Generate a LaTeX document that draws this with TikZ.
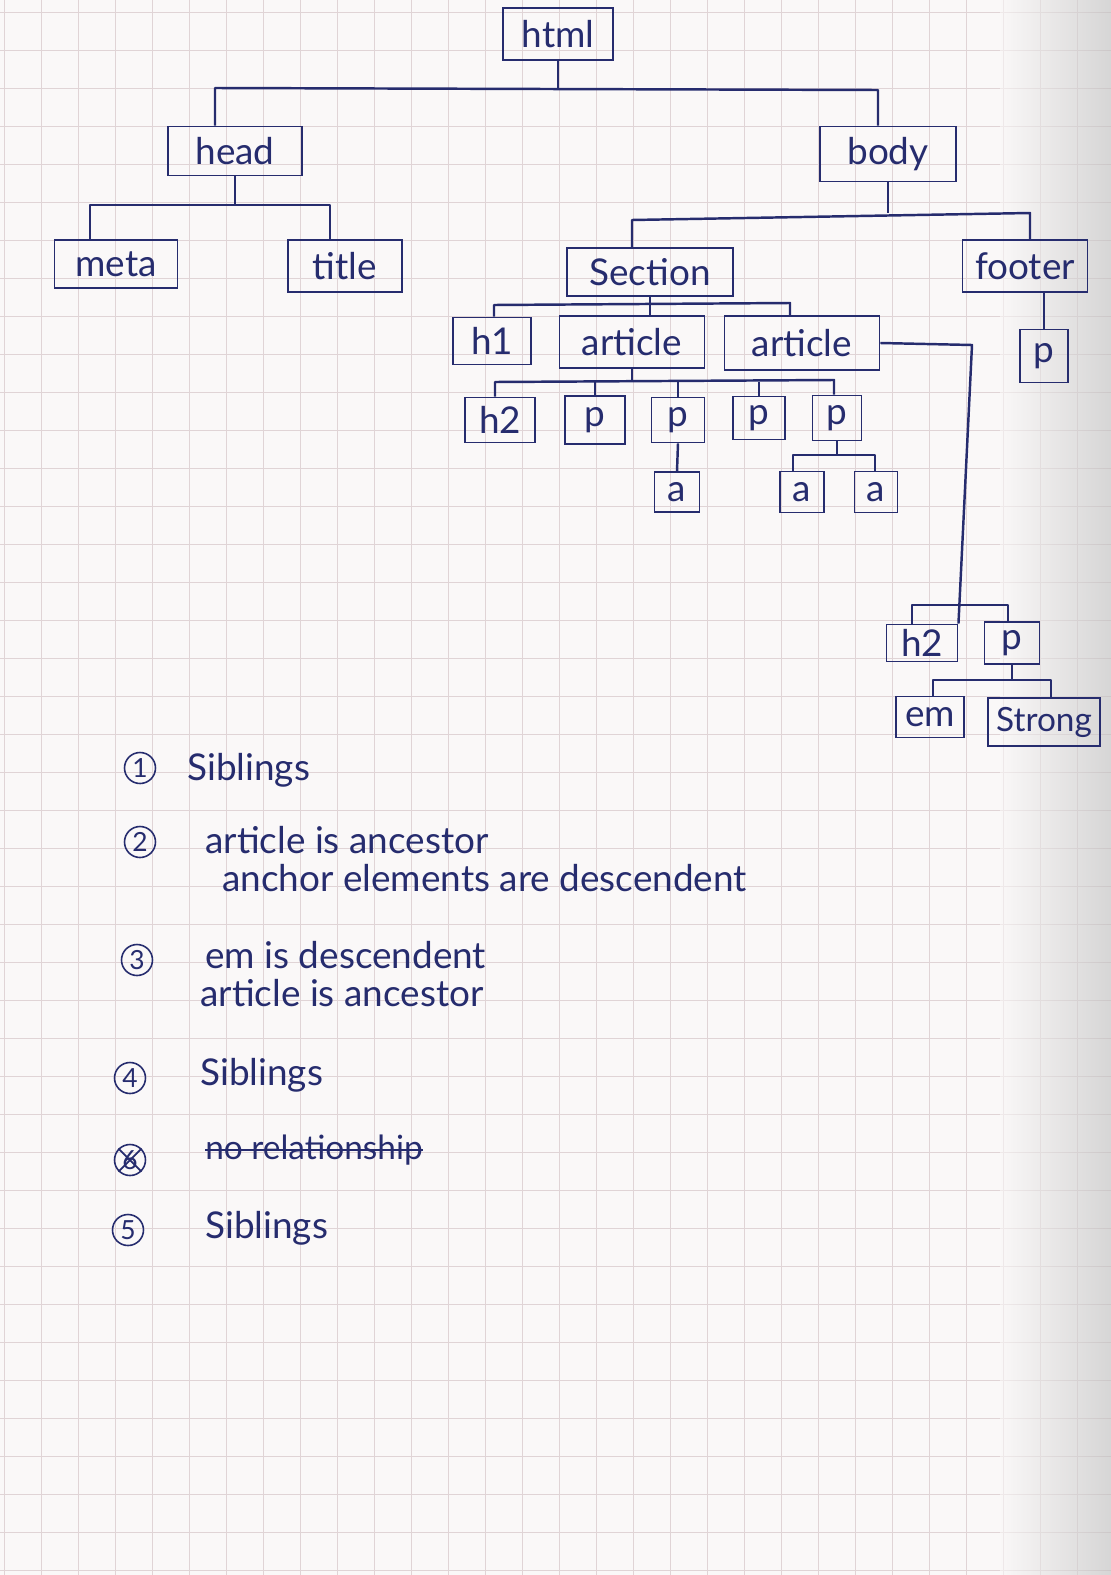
\documentclass[tikz,border=0pt]{standalone}
\usepackage{fontspec}
\setmainfont{Lato}
\usetikzlibrary{positioning}
\definecolor{penblue}{HTML}{262C6E}
\definecolor{gridpink}{HTML}{E0D4D6}
\definecolor{paper}{HTML}{FAF8F8}

\begin{document}
\begin{tikzpicture}[
    x=0.02cm, y=-0.02cm,
    tag/.style={draw=penblue, line width=1.1pt, inner sep=0pt, text=penblue,
                font=\fontsize{21}{24}\selectfont},
    link/.style={draw=penblue, line width=1.4pt, line join=round},
    num/.style={circle, draw=penblue, line width=0.9pt, inner sep=0pt,
                minimum size=0.62cm, text=penblue, font=\fontsize{15}{17}\selectfont},
    note/.style={anchor=west, inner sep=0pt, text=penblue,
                 font=\fontsize{21}{24}\selectfont},
  ]
  % Paper with its grid
  \useasboundingbox (0,0) rectangle (1111,1575);
  \fill[paper] (0,0) rectangle (1111,1575);
  \foreach \gx in {4,41,...,1111}
    \draw[gridpink, line width=0.5pt] (\gx,0) -- (\gx,1575);
  \foreach \gy in {12,50,...,1575}
    \draw[gridpink, line width=0.5pt] (0,\gy) -- (1111,\gy);
  \shade[left color=paper, right color=black!25, opacity=0.6] (1000,0) rectangle (1111,1575);

  % Level 0 and 1
  \node[tag, minimum width=2.2cm, minimum height=1.04cm] (html) at (558,34) {html};
  \node[tag, minimum width=2.68cm, minimum height=0.98cm] (head) at (235,151) {head};
  \node[tag, minimum width=2.72cm, minimum height=1.1cm] (body) at (888,154) {body};

  % Level 2
  \node[tag, minimum width=2.46cm, minimum height=0.96cm] (meta) at (116,264) {meta};
  \node[tag, minimum width=2.28cm, minimum height=1.04cm] (title) at (345,266) {title};
  \node[tag, minimum width=3.32cm, minimum height=0.96cm] (section) at (650,272) {Section};
  \node[tag, minimum width=2.5cm, minimum height=1.04cm] (footer) at (1025,266) {footer};

  % Level 3
  \node[tag, minimum width=1.56cm, minimum height=0.94cm] (h1) at (492,341) {h1};
  \node[tag, minimum width=2.9cm, minimum height=1.04cm] (art1) at (632,342) {article};
  \node[tag, minimum width=3.1cm, minimum height=1.08cm] (art2) at (802,343) {article};
  \node[tag, minimum width=0.96cm, minimum height=1.06cm] (pf) at (1044,356) {p};

  % Level 4
  \node[tag, minimum width=1.4cm, minimum height=0.9cm] (h2) at (500,420) {h2};
  \node[tag, minimum width=1.2cm, minimum height=0.96cm] (p1) at (595,420) {p};
  \node[tag, minimum width=1.06cm, minimum height=0.9cm] (p2) at (678,420) {p};
  \node[tag, minimum width=1.04cm, minimum height=0.86cm] (p3) at (759,418) {p};
  \node[tag, minimum width=0.98cm, minimum height=0.9cm] (p4) at (837,418) {p};

  % Level 5
  \node[tag, minimum width=0.9cm, minimum height=0.8cm] (a1) at (677,492) {a};
  \node[tag, minimum width=0.88cm, minimum height=0.82cm] (a2) at (802,492) {a};
  \node[tag, minimum width=0.86cm, minimum height=0.82cm] (a3) at (876,492) {a};

  % Second article's children, far right
  \node[tag, minimum width=1.42cm, minimum height=0.74cm] (h2b) at (922,643) {h2};
  \node[tag, minimum width=1.1cm, minimum height=0.84cm] (pb) at (1012,643) {p};
  \node[tag, minimum width=1.36cm, minimum height=0.82cm] (em) at (930,717) {em};
  \node[tag, minimum width=2.24cm, minimum height=0.96cm,
        font=\fontsize{19}{22}\selectfont] (strong) at (1044,722) {Strong};

  % Connectors
  \coordinate (hL) at (215,88);  \coordinate (hR) at (878,90);
  \draw[link] (html.south) -- (html.south |- hL);
  \draw[link] (head.north -| hL) -- (hL) -- (hR) -- (body.north -| hR);

  \coordinate (dL) at (90,205);  \coordinate (dR) at (330,205);
  \draw[link] (head.south) -- (head.south |- dL);
  \draw[link] (meta.north -| dL) -- (dL) -- (dR) -- (title.north -| dR);

  \coordinate (bL) at (632,220); \coordinate (bR) at (1030,213);
  \draw[link] (body.south) -- (body.south |- bR);
  \draw[link] (section.north -| bL) -- (bL) -- (bR) -- (footer.north -| bR);
  \draw[link] (pf.north) -- (pf.north |- footer.south);

  \coordinate (sL) at (494,305); \coordinate (sR) at (790,303);
  \draw[link] (section.south) -- (art1.north -| section.south);
  \draw[link] (h1.north -| sL) -- (sL) -- (sR) -- (art2.north -| sR);

  \coordinate (aL) at (495,382); \coordinate (aR) at (834,380);
  \draw[link] (art1.south) -- (art1.south |- aL);
  \draw[link] (h2.north -| aL) -- (aL) -- (aR) -- (p4.north -| aR);
  \foreach \n in {p1,p2,p3}
    \draw[link] (\n.north) -- (\n.north |- aL);

  \draw[link] (p2.south) -- (a1.north);
  \coordinate (qL) at (793,455); \coordinate (qR) at (875,455);
  \draw[link] (p4.south) -- (p4.south |- qL);
  \draw[link] (a2.north -| qL) -- (qL) -- (qR) -- (a3.north -| qR);

  \coordinate (rT) at (972,345);
  \coordinate (rL) at (912,605); \coordinate (rR) at (1008,605);
  \draw[link] (art2.east) -- (rT) -- (h2b.north east);
  \draw[link] (h2b.north -| rL) -- (rL) -- (rR) -- (pb.north -| rR);

  \coordinate (eL) at (933,680); \coordinate (eR) at (1051,680);
  \draw[link] (pb.south) -- (pb.south |- eL);
  \draw[link] (em.north -| eL) -- (eL) -- (eR) -- (strong.north -| eR);

  % Notes
  \node[num] (n1) at (140,768) {1};
  \node[note] (s1) at (187,770) {Siblings};
  \node[num] (n2) at (140,842) {2};
  \node[note] (s2) at (205,840) {article is ancestor};
  \node[note] (s2b) at (222,878) {anchor elements are descendent};
  \node[num] (n3) at (137,960) {3};
  \node[note] (s3) at (205,955) {em is descendent};
  \node[note] (s3b) at (200,993) {article is ancestor};
  \node[num] (n4) at (130,1078) {4};
  \node[note] (s4) at (200,1075) {Siblings};
  \node[num] (n6) at (130,1160) {6};
  \node[note, font=\fontsize{19}{22}\selectfont] (s6) at (205,1150) {no relationship};
  \draw[penblue, line width=1pt] (n6.north west) -- (n6.south east);
  \draw[penblue, line width=1pt] (n6.south west) -- (n6.north east);
  \draw[penblue, line width=1pt] (s6.west) -- (s6.east);
  \node[num] (n5) at (128,1230) {5};
  \node[note] (s5) at (205,1228) {Siblings};
\end{tikzpicture}
\end{document}
